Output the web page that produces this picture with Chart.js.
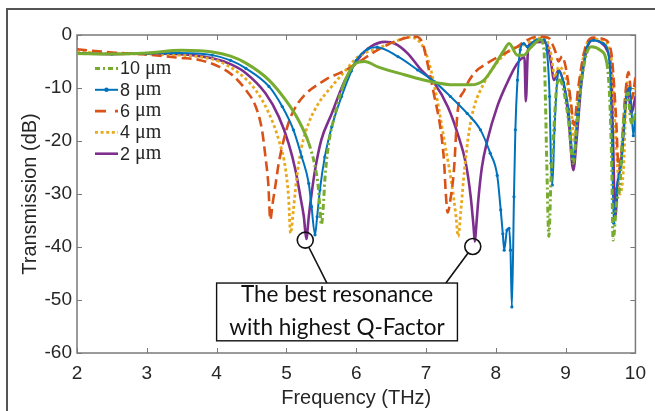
<!DOCTYPE html>
<html>
<head>
<meta charset="utf-8">
<script src="https://cdn.jsdelivr.net/npm/chart.js@4.4.0/dist/chart.umd.min.js"></script>
<style>
  html, body { margin: 0; padding: 0; background: #fff; }
  #wrap { position: relative; width: 655px; height: 411px; overflow: hidden; }
  #frame { position: absolute; left: 6px; top: 8px; width: 700px; height: 500px;
           border-top: 2px solid #555; border-left: 2px solid #555; }
  canvas { position: absolute; left: 0; top: 0; }
</style>
</head>
<body>
<div id="wrap"><div id="frame"></div><canvas id="chart" width="655" height="411"></canvas></div>
<script>
// Transmission spectra: [frequency THz, transmission dB]
const widths = ['10', '8', '6', '4', '2'];

const trans10 = [[2.0,-3.5],[2.5,-3.6],[3.0,-3.4],[3.5,-2.9],[3.94,-3.2],[4.2,-4.0],[4.42,-5.3],[4.75,-8.5],
  [4.99,-12.3],[5.17,-16],[5.32,-20.4],[5.41,-24.8],[5.46,-29.2],[5.48,-33],[5.5,-35.8],[5.53,-32],[5.55,-27.4],
  [5.6,-21],[5.7,-14.8],[5.79,-10.4],[5.89,-7.2],[5.98,-5.5],[6.12,-5.0],[6.31,-6.0],[6.69,-7.5],[7.07,-8.8],
  [7.4,-9.4],[7.64,-9.4],[7.83,-8.5],[7.97,-6.0],[8.12,-2.8],[8.19,-1.6],[8.31,-3.8],[8.4,-3.8],[8.49,-2.5],
  [8.64,-0.9],[8.69,-2.8],[8.71,-11.6],[8.73,-24.2],[8.76,-38],[8.79,-27.4],[8.83,-17.9],[8.88,-9.1],[8.92,-8.5],
  [8.97,-10.4],[9.04,-16],[9.11,-24.2],[9.16,-17],[9.23,-8.5],[9.3,-3.5],[9.37,-2.2],[9.49,-2.8],[9.59,-5.3],
  [9.63,-11.6],[9.66,-24.2],[9.68,-38.7],[9.73,-31.7],[9.78,-28],[9.82,-17.9],[9.89,-11],[9.94,-16.6],[10.0,-15]];

const trans8 = [[2.0,-3.4],[2.5,-3.6],[3.0,-3.5],[3.47,-3.4],[3.94,-3.8],[4.2,-4.8],[4.42,-6.3],[4.75,-9.7],
  [4.94,-13.5],[5.1,-17.9],[5.22,-23],[5.32,-28],[5.36,-32.4],[5.41,-37.7],[5.44,-34.3],[5.48,-29.2],[5.55,-23],
  [5.65,-17.3],[5.79,-11.6],[5.93,-6.8],[6.0,-4.8],[6.17,-2.6],[6.3,-2.3],[6.6,-4.1],[6.88,-6.6],[7.12,-8.8],
  [7.35,-11.6],[7.59,-14.8],[7.78,-17.9],[7.92,-22.3],[8.02,-26.5],[8.07,-33],[8.1,-37.5],[8.12,-40.6],
  [8.16,-36.8],[8.19,-36.5],[8.21,-40.6],[8.23,-51.3],[8.26,-30.5],[8.28,-17.9],[8.31,-8.5],[8.35,-2.8],
  [8.4,-1.6],[8.45,-2.2],[8.59,-0.9],[8.69,-0.9],[8.73,-2.8],[8.77,-11.6],[8.79,-24.2],[8.81,-28.3],[8.84,-17.9],
  [8.88,-8.5],[8.9,-6.9],[8.97,-9],[9.04,-14],[9.11,-23],[9.17,-15],[9.3,-2.5],[9.4,-1.0],[9.54,-1.6],[9.63,-5.3],
  [9.67,-24],[9.69,-35.5],[9.73,-29],[9.8,-24],[9.87,-11.6],[9.92,-10],[9.97,-19],[10.0,-15]];

const trans6 = [[2.0,-2.7],[2.5,-3.3],[3.0,-3.7],[3.47,-4.3],[3.75,-4.7],[4.04,-6],[4.22,-7.5],[4.42,-10.4],
  [4.56,-13.5],[4.65,-17.9],[4.7,-23],[4.74,-28],[4.77,-34.9],[4.8,-32],[4.84,-28.6],[4.89,-24.2],[5.03,-16.6],
  [5.17,-12.8],[5.55,-8.5],[5.79,-7],[5.93,-6],[6.31,-2.8],[6.6,-1.0],[6.84,-0.3],[6.95,-1.5],[7.02,-5.3],
  [7.12,-11.6],[7.21,-17.9],[7.26,-24.2],[7.28,-29.2],[7.31,-33.5],[7.35,-31],[7.4,-25.5],[7.45,-14.8],
  [7.55,-10.4],[7.69,-7.2],[7.88,-5.3],[8.12,-3.5],[8.31,-2.2],[8.4,-1.3],[8.6,-0.3],[8.75,-0.5],[8.85,-3],
  [8.9,-5],[8.95,-4],[9.0,-6],[9.07,-12],[9.12,-17],[9.18,-10],[9.28,-2.5],[9.4,-0.5],[9.55,-0.8],[9.65,-3],
  [9.72,-15],[9.76,-25],[9.8,-22],[9.85,-12],[9.9,-7],[9.95,-12],[10.0,-8]];

const trans4 = [[2.0,-3.2],[2.5,-3.5],[3.0,-3.6],[3.47,-3.8],[3.75,-4.1],[4.04,-5],[4.32,-7.2],[4.56,-10.4],
  [4.75,-14.8],[4.89,-19.8],[4.99,-25.5],[5.03,-30.5],[5.06,-37.4],[5.1,-33],[5.15,-26.7],[5.22,-21],[5.32,-16.6],
  [5.46,-12.9],[5.65,-9.7],[5.8,-7.4],[6.03,-4.1],[6.31,-2.5],[6.55,-1.3],[6.74,-0.4],[6.84,-0.6],[6.98,-2.8],
  [7.07,-6.6],[7.17,-12.9],[7.26,-19.8],[7.36,-27.4],[7.43,-34.3],[7.46,-38],[7.5,-33],[7.55,-25.5],[7.62,-17.9],
  [7.69,-13.5],[7.83,-9.1],[7.97,-6],[8.21,-2.8],[8.4,-1.9],[8.55,-0.8],[8.7,-0.5],[8.78,-3],[8.85,-8],[8.9,-6],
  [9.0,-8],[9.08,-14],[9.12,-20],[9.18,-12],[9.27,-3],[9.4,-0.7],[9.55,-1.2],[9.65,-4],[9.72,-20],[9.78,-30],
  [9.83,-25],[9.88,-9],[9.93,-12],[10.0,-10]];

const trans2 = [[2.0,-3.4],[2.5,-3.6],[3.0,-3.5],[3.47,-3.6],[3.94,-4.4],[4.2,-5.5],[4.42,-7.2],[4.7,-11],
  [4.89,-15.4],[5.03,-20.4],[5.13,-25.5],[5.2,-30.5],[5.25,-34.3],[5.285,-38.5],[5.32,-34.3],[5.36,-30],
  [5.41,-25.5],[5.5,-19.8],[5.65,-14.8],[5.84,-8.5],[6.03,-4.5],[6.21,-2.2],[6.41,-1.3],[6.55,-1.6],[6.74,-3.5],
  [6.93,-6.6],[7.12,-9.1],[7.31,-13.5],[7.45,-18.5],[7.57,-24.2],[7.64,-30.5],[7.68,-36],[7.7,-39],[7.72,-36],
  [7.75,-31],[7.8,-25],[7.88,-19.8],[8.02,-13.5],[8.16,-9.1],[8.3,-5.5],[8.41,-4.2],[8.43,-12.5],[8.46,-3],
  [8.5,-1.5],[8.64,-1.3],[8.73,-1.6],[8.8,-6],[8.83,-8.5],[8.9,-6.6],[8.97,-9.1],[9.04,-15.4],[9.11,-25.5],
  [9.16,-19.2],[9.23,-8.5],[9.3,-2.8],[9.4,-0.9],[9.49,-1.3],[9.59,-2.8],[9.66,-8.5],[9.68,-20],[9.71,-34.3],
  [9.75,-27.4],[9.8,-23],[9.85,-14.8],[9.89,-9.7],[9.94,-14.8],[10.0,-11.6]];

const freqTicks = [2, 3, 4, 5, 6, 7, 8, 9, 10];
const transTicks = [0, -10, -20, -30, -40, -50, -60];

// annotation: circled resonances, and the note box (data units)
const circled = [[5.27, -38.7, 5.58], [7.67, -39.9, 7.285]];
const noteBox = [4.0, 7.45, -46.8, -57.7];
const noteText = ['The best resonance', 'with highest Q-Factor'];

const AXIS = '#7a7a7a';
const TXT = '#262626';

function xy(pts) {
    return pts.map(p => ({ x: p[0], y: p[1] }));
}

// green line shows dash-dot only where it is steep
function steep(ctx) {
    return Math.abs(ctx.p1.y - ctx.p0.y) > 2.5 * Math.abs(ctx.p1.x - ctx.p0.x);
}

const datasets = [
    {
        label: widths[0] + ' μm', data: xy(trans10), borderColor: '#77AC30', borderWidth: 3,
        segment: { borderDash: ctx => steep(ctx) ? [6, 3, 2, 3] : undefined },
        legendDash: [5, 3, 2, 3]
    },
    {
        label: widths[1] + ' μm', data: xy(trans8), borderColor: '#0072BD', borderWidth: 2,
        pointRadius: 1.6, pointBackgroundColor: '#0072BD', pointBorderWidth: 0, marker: true
    },
    {
        label: widths[2] + ' μm', data: xy(trans6), borderColor: '#D95319', borderWidth: 2.6,
        borderDash: [10, 5], legendDash: [11, 9]
    },
    {
        label: widths[3] + ' μm', data: xy(trans4), borderColor: '#E8AA1C', borderWidth: 2.8,
        borderDash: [3, 2.6], legendDash: [3, 2.6]
    },
    {
        label: widths[4] + ' μm', data: xy(trans2), borderColor: '#7E2F8E', borderWidth: 2.6
    }
];
datasets.forEach(d => {
    d.fill = false;
    d.cubicInterpolationMode = 'monotone';
    if (d.pointRadius === undefined) d.pointRadius = 0;
});

// axes box with inward ticks on all four sides, like the original
const boxTicks = {
    id: 'boxTicks',
    beforeDatasetsDraw(chart) {
        const { ctx, chartArea: a, scales: { x, y } } = chart;
        ctx.save();
        ctx.strokeStyle = AXIS;
        ctx.lineWidth = 1.5;
        ctx.strokeRect(a.left, a.top, a.right - a.left, a.bottom - a.top);
        ctx.lineWidth = 1;
        ctx.beginPath();
        freqTicks.forEach(v => {
            const px = Math.round(x.getPixelForValue(v)) + 0.5;
            ctx.moveTo(px, a.bottom); ctx.lineTo(px, a.bottom - 5);
            ctx.moveTo(px, a.top); ctx.lineTo(px, a.top + 5);
        });
        transTicks.forEach(v => {
            const py = Math.round(y.getPixelForValue(v)) + 0.5;
            ctx.moveTo(a.left, py); ctx.lineTo(a.left + 5, py);
            ctx.moveTo(a.right, py); ctx.lineTo(a.right - 5, py);
        });
        ctx.stroke();
        ctx.restore();
    }
};

const notes = {
    id: 'notes',
    afterDraw(chart) {
        const { ctx, chartArea: a, scales: { x, y } } = chart;
        ctx.save();

        // legend in the upper left of the plot
        datasets.forEach((d, i) => {
            const ly = a.top + 33.5 + i * 21.3;
            const x0 = a.left + 18, x1 = a.left + 41;
            ctx.strokeStyle = d.borderColor;
            ctx.lineWidth = d.borderWidth;
            ctx.setLineDash(d.legendDash || []);
            ctx.beginPath(); ctx.moveTo(x0, ly); ctx.lineTo(x1, ly); ctx.stroke();
            ctx.setLineDash([]);
            if (d.marker) {
                ctx.fillStyle = d.borderColor;
                ctx.beginPath(); ctx.arc((x0 + x1) / 2, ly, 2.2, 0, Math.PI * 2); ctx.fill();
            }
            ctx.fillStyle = TXT;
            ctx.textBaseline = 'middle';
            ctx.textAlign = 'left';
            ctx.font = '18px "Liberation Sans", Arial, sans-serif';
            const num = widths[i] + ' ';
            ctx.fillText(num, x1 + 2, ly + 1);
            const w = ctx.measureText(num).width;
            ctx.font = '20px "Liberation Serif", "Times New Roman", serif';
            ctx.fillText('μm', x1 + 2 + w, ly);
        });

        // circles and leader lines
        ctx.strokeStyle = '#111';
        ctx.lineWidth = 1.6;
        const r = 8;
        const topY = y.getPixelForValue(noteBox[2]);
        circled.forEach(c => {
            const cx = x.getPixelForValue(c[0]), cy = y.getPixelForValue(c[1]);
            const ax = x.getPixelForValue(c[2]);
            const d = Math.hypot(ax - cx, topY - cy);
            ctx.beginPath(); ctx.arc(cx, cy, r, 0, Math.PI * 2); ctx.stroke();
            ctx.beginPath();
            ctx.moveTo(cx + (ax - cx) / d * r, cy + (topY - cy) / d * r);
            ctx.lineTo(ax, topY);
            ctx.stroke();
        });

        // note box
        const bx0 = x.getPixelForValue(noteBox[0]), bx1 = x.getPixelForValue(noteBox[1]);
        const by1 = y.getPixelForValue(noteBox[3]);
        ctx.fillStyle = '#fff';
        ctx.fillRect(bx0, topY, bx1 - bx0, by1 - topY);
        ctx.lineWidth = 1.4;
        ctx.strokeRect(bx0, topY, bx1 - bx0, by1 - topY);
        ctx.fillStyle = '#111';
        ctx.font = '22.5px Lato, "Open Sans", sans-serif';
        ctx.textAlign = 'center';
        ctx.textBaseline = 'alphabetic';
        const cxm = (bx0 + bx1) / 2;
        ctx.fillText(noteText[0], cxm, topY + 19);
        ctx.fillText(noteText[1], cxm, topY + 52);
        ctx.restore();
    }
};

new Chart(document.getElementById('chart'), {
    type: 'line',
    data: { datasets: datasets },
    options: {
        responsive: false,
        animation: false,
        devicePixelRatio: 1,
        layout: { padding: { top: 35, right: 15, bottom: 0, left: 0 } },
        plugins: { legend: { display: false }, tooltip: { enabled: false } },
        scales: {
            x: {
                type: 'linear', min: 2, max: 10,
                afterFit: s => { s.height = 58; },
                afterBuildTicks: s => { s.ticks = freqTicks.map(v => ({ value: v })); },
                grid: { display: false, drawTicks: false },
                border: { display: false },
                ticks: { padding: 9, color: TXT, font: { family: '"Liberation Sans", Arial, sans-serif', size: 19 } },
                title: { display: true, text: 'Frequency (THz)', color: TXT, padding: { top: 0, bottom: 1 },
                         font: { family: '"Liberation Sans", Arial, sans-serif', size: 20 } }
            },
            y: {
                type: 'linear', min: -60, max: 0,
                afterFit: s => { s.width = 77; },
                afterBuildTicks: s => { s.ticks = transTicks.map(v => ({ value: v })); },
                grid: { display: false, drawTicks: false },
                border: { display: false },
                ticks: { padding: 5, color: TXT, font: { family: '"Liberation Sans", Arial, sans-serif', size: 19 } },
                title: { display: true, text: 'Transmission (dB)', color: TXT, padding: { top: 18, bottom: 0 },
                         font: { family: '"Liberation Sans", Arial, sans-serif', size: 20 } }
            }
        }
    },
    plugins: [boxTicks, notes]
});
</script>
</body>
</html>
